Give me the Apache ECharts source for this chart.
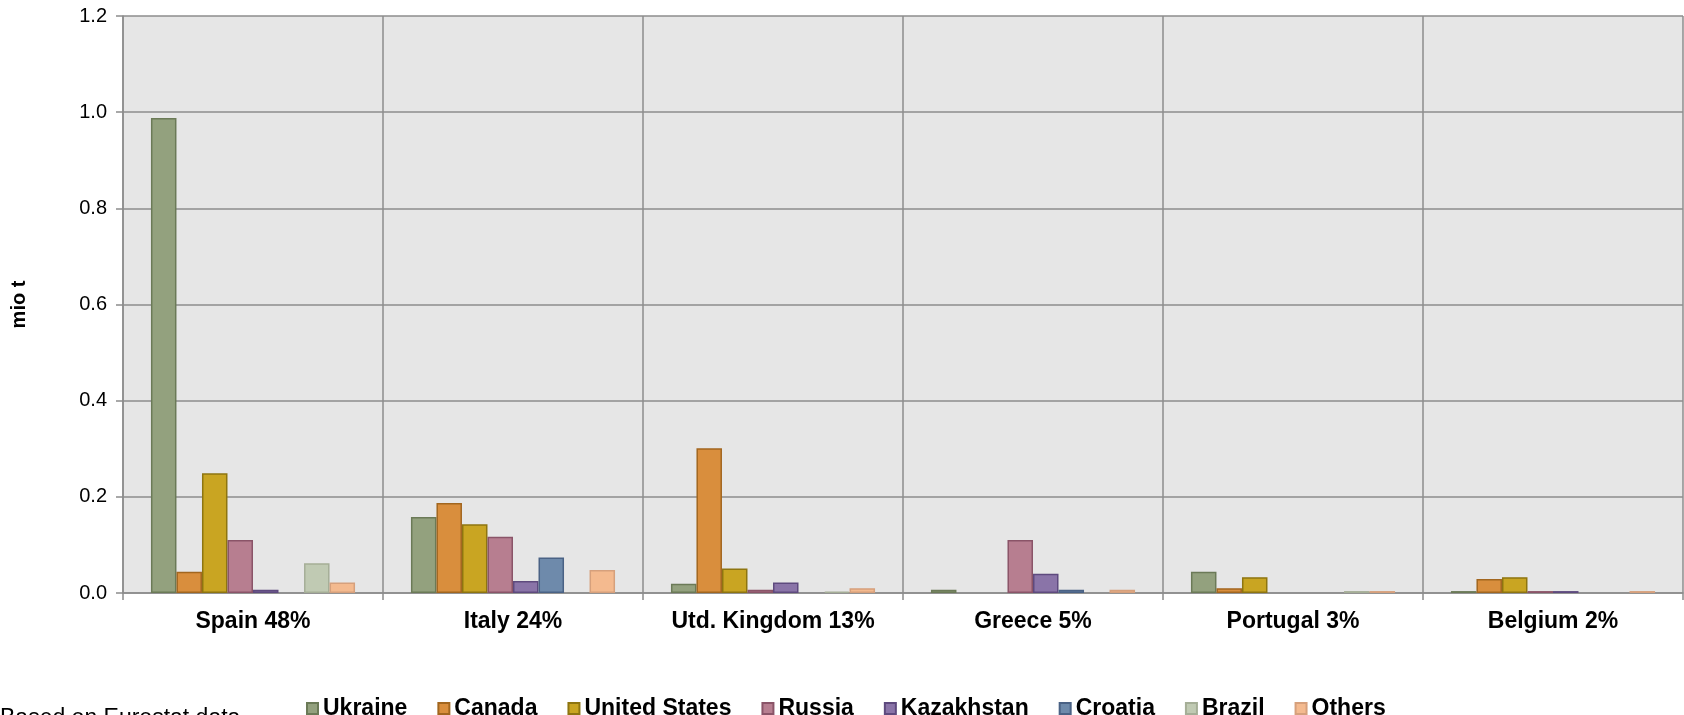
<!DOCTYPE html>
<html>
<head>
<meta charset="utf-8">
<script src="https://cdn.jsdelivr.net/npm/echarts@6/dist/echarts.min.js"></script>
<style>html,body{margin:0;padding:0;background:#fff}#c{width:1684px;height:715px}</style>
</head>
<body>
<div id="c"></div>
<script>
var categories = ['Spain 48%', 'Italy 24%', 'Utd. Kingdom 13%', 'Greece 5%', 'Portugal 3%', 'Belgium 2%'];
var yTicks = [0, 0.2, 0.4, 0.6, 0.8, 1.0, 1.2];
var ukraine      = [0.988, 0.158, 0.019, 0.007, 0.044, 0.004];
var canada       = [0.044, 0.187, 0.301, 0,     0.010, 0.029];
var unitedStates = [0.249, 0.143, 0.051, 0,     0.033, 0.033];
var russia       = [0.110, 0.117, 0.007, 0.110, 0,     0.004];
var kazakhstan   = [0.007, 0.025, 0.022, 0.040, 0,     0.004];
var croatia      = [0,     0.074, 0,     0.007, 0,     0];
var brazil       = [0.062, 0,     0.003, 0,     0.004, 0];
var others       = [0.022, 0.048, 0.010, 0.007, 0.004, 0.004];

var seriesDefs = [
  ['Ukraine', ukraine, '#93A17E', '#6B7A57'],
  ['Canada', canada, '#D98E3D', '#A2661F'],
  ['United States', unitedStates, '#C9A522', '#8E7510'],
  ['Russia', russia, '#B77E90', '#8A5468'],
  ['Kazakhstan', kazakhstan, '#8A74A8', '#5E4A7E'],
  ['Croatia', croatia, '#6E8AAB', '#4A6285'],
  ['Brazil', brazil, '#C0CAB3', '#A5AE97'],
  ['Others', others, '#F4BA8F', '#D6A07C']
];

var chart = echarts.init(document.getElementById('c'));
var font = '"Liberation Sans", Arial, sans-serif';
chart.setOption({
  animation: false,
  backgroundColor: '#fff',
  grid: { left: 123, right: 1, top: 16, bottom: 122, show: true, backgroundColor: '#E6E6E6', borderWidth: 0,
          containLabel: false, outerBoundsMode: 'none' },
  legend: {
    left: 301, top: 692, icon: 'rect', itemWidth: 11, itemHeight: 11, itemGap: 30,
    textStyle: { fontFamily: font, fontWeight: 'bold', fontSize: 23, color: '#000' },
    data: seriesDefs.map(function (s) { return s[0]; })
  },
  xAxis: {
    type: 'category', data: categories,
    axisLine: { lineStyle: { color: '#8C8C8C', width: 1.5 } },
    axisTick: { show: true, interval: 0, length: 7, lineStyle: { color: '#8C8C8C', width: 1.5 } },
    splitLine: { show: true, interval: 0, lineStyle: { color: '#8C8C8C', width: 1.5 } },
    axisLabel: { interval: 0, hideOverlap: false, fontFamily: font, fontWeight: 'bold', fontSize: 23, color: '#000', margin: 17 }
  },
  yAxis: {
    type: 'value', min: 0, max: 1.2, interval: 0.2,
    name: 'mio t', nameLocation: 'middle', nameGap: 94, nameRotate: 90,
    nameTextStyle: { fontFamily: font, fontWeight: 'bold', fontSize: 20, color: '#000' },
    axisLine: { show: true, lineStyle: { color: '#8C8C8C', width: 1.5 } },
    axisTick: { show: true, length: 7, lineStyle: { color: '#8C8C8C', width: 1.5 } },
    splitLine: { show: true, lineStyle: { color: '#8C8C8C', width: 1.5 } },
    axisLabel: { fontFamily: font, fontSize: 20, color: '#000', margin: 16,
      formatter: function (v) { return v.toFixed(1); } }
  },
  graphic: [{
    type: 'text', left: 0, top: 707,
    style: { text: 'Based on Eurostat data', font: '23px ' + font, fill: '#000' }
  }],
  series: seriesDefs.map(function (s) {
    return {
      name: s[0], type: 'bar',
      data: s[1].map(function (v) { return v === 0 ? '-' : v; }),
      barGap: '0%', barCategoryGap: '21.5%',
      itemStyle: { color: s[2], borderColor: s[3], borderWidth: 1.5 }
    };
  })
});
</script>
</body>
</html>
